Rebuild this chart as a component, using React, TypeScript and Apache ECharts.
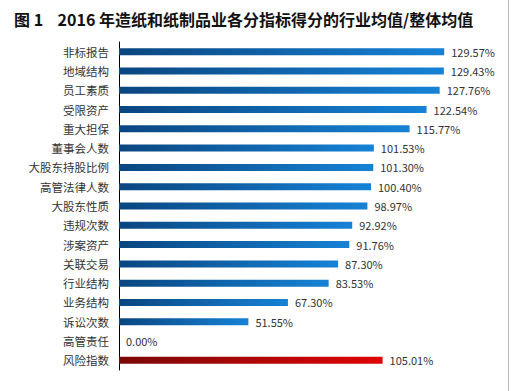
import React, { useEffect, useRef } from "react";
import * as echarts from "echarts";

const categories = [
  "非标报告", "地域结构", "员工素质", "受限资产", "重大担保", "董事会人数",
  "大股东持股比例", "高管法律人数", "大股东性质", "违规次数", "涉案资产",
  "关联交易", "行业结构", "业务结构", "诉讼次数", "高管责任", "风险指数",
];
const values = [
  129.57, 129.43, 127.76, 122.54, 115.77, 101.53, 101.3, 100.4, 98.97,
  92.92, 91.76, 87.3, 83.53, 67.3, 51.55, 0.0, 105.01,
];
const highlight = "风险指数";
const titleText = "图 1    2016 年造纸和纸制品业各分指标得分的行业均值/整体均值";

const FONT = "'Noto Sans CJK SC', 'Noto Sans', sans-serif";

export default function App() {
  const ref = useRef<HTMLDivElement>(null);
  useEffect(() => {
    if (!ref.current) return;
    const chart = echarts.init(ref.current, undefined, { renderer: "svg" });
    const blue = new echarts.graphic.LinearGradient(0, 0, 1, 0, [
      { offset: 0, color: "#0a4680" },
      { offset: 1, color: "#1682d6" },
    ]);
    const red = new echarts.graphic.LinearGradient(0, 0, 1, 0, [
      { offset: 0, color: "#7a0808" },
      { offset: 1, color: "#e00404" },
    ]);
    chart.setOption({
      animation: false,
      backgroundColor: "#ffffff",
      title: {
        text: titleText,
        left: 9,
        top: 6,
        textStyle: { fontSize: 16, fontWeight: "bold", color: "#111", fontFamily: FONT },
      },
      grid: { left: 119, top: 42, width: 376.5, height: 328 },
      xAxis: { type: "value", min: 0, max: 150, show: false },
      yAxis: {
        type: "category",
        data: categories,
        inverse: true,
        axisLine: { show: true, lineStyle: { color: "#000", width: 1 } },
        axisTick: { show: false },
        axisLabel: { margin: 10, fontSize: 11.5, color: "#333", fontFamily: FONT },
      },
      graphic: [
        { type: "line", shape: { x1: 508.5, y1: 0, x2: 508.5, y2: 391 }, style: { stroke: "#bbb", lineWidth: 1 } },
      ],
      series: [
        {
          type: "bar",
          barWidth: 7,
          data: values.map((v, i) => ({
            value: v,
            itemStyle: { color: categories[i] === highlight ? red : blue },
          })),
          label: {
            show: true,
            position: "right",
            distance: 7,
            fontSize: 11,
            color: "#333",
            fontFamily: FONT,
            formatter: (p: any) => p.value.toFixed(2) + "%",
          },
        },
      ],
    });
    return () => chart.dispose();
  }, []);
  return (
    <div
      ref={ref}
      style={{ position: "fixed", left: 0, top: 0, width: 512, height: 391 }}
    />
  );
}
